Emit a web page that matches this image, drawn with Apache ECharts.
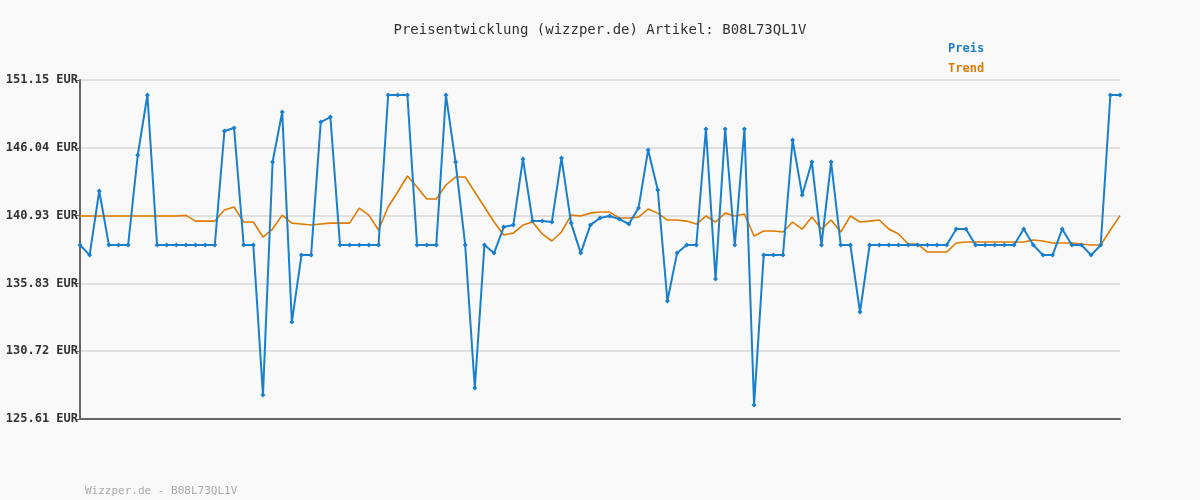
<!DOCTYPE html>
<html><head><meta charset="utf-8">
<script src="https://cdn.jsdelivr.net/npm/echarts@6/dist/echarts.min.js"></script>
<style>html,body{margin:0;padding:0;background:#f9f9f9}#c{width:1200px;height:500px}</style>
</head><body><div id="c"></div>
<script>
const title = 'Preisentwicklung (wizzper.de) Artikel: B08L73QL1V';
const footer = 'Wizzper.de - B08L73QL1V';
const yTicks = [125.61, 130.72, 135.83, 140.93, 146.04, 151.15];
const preis = [
138.72,137.96,142.79,138.72,138.72,138.72,145.5,150.02,138.72,138.72,
138.72,138.72,138.72,138.72,138.72,147.31,147.53,138.72,138.72,127.41,
144.97,148.74,132.91,137.96,137.96,147.98,148.36,138.72,138.72,138.72,
138.72,138.72,150.02,150.02,150.02,138.72,138.72,138.72,150.02,144.97,
138.72,127.94,138.72,138.11,140.07,140.22,145.2,140.52,140.52,140.45,
145.27,140.37,138.11,140.22,140.75,140.9,140.67,140.3,141.5,145.88,
142.86,134.5,138.11,138.72,138.72,147.46,136.15,147.46,138.72,147.46,
126.66,137.96,137.96,137.96,146.63,142.48,144.97,138.72,144.97,138.72,
138.72,133.67,138.72,138.72,138.72,138.72,138.72,138.72,138.72,138.72,
138.72,139.92,139.92,138.72,138.72,138.72,138.72,138.72,139.92,138.72,
137.96,137.96,139.92,138.72,138.72,137.96,138.72,150.02,150.02];
const trend = [
140.9,140.9,140.9,140.9,140.9,140.9,140.9,140.9,140.9,140.9,
140.9,140.95,140.52,140.52,140.52,141.35,141.58,140.45,140.45,139.32,
139.92,140.97,140.37,140.3,140.22,140.3,140.37,140.37,140.37,141.5,
140.97,139.85,141.58,142.71,143.92,143.09,142.18,142.18,143.24,143.84,
143.84,142.71,141.58,140.45,139.47,139.62,140.22,140.45,139.55,139.02,
139.7,140.97,140.9,141.12,141.2,141.2,140.75,140.75,140.82,141.43,
141.12,140.6,140.6,140.52,140.3,140.9,140.45,141.12,140.9,141.05,
139.4,139.77,139.77,139.7,140.45,139.92,140.82,139.92,140.6,139.7,
140.9,140.45,140.52,140.6,139.92,139.55,138.79,138.79,138.19,138.19,
138.19,138.87,138.94,138.94,138.94,138.94,138.94,138.94,138.94,139.1,
139.02,138.87,138.87,138.87,138.79,138.72,138.72,139.85,140.93];
const cats = preis.map((_, i) => i + 1);
const mono = 'DejaVu Sans Mono';
const chart = echarts.init(document.getElementById('c'));
chart.setOption({
  backgroundColor: '#f9f9f9',
  animation: false,
  title: [{text: title, left: 'center', top: 18, textStyle: {fontFamily: mono, fontSize: 14, fontWeight: 'normal', color: '#333'}},
          {text: footer, left: 80, top: 481, textStyle: {fontFamily: mono, fontSize: 11, fontWeight: 'normal', color: '#aaa'}}],
  legend: {orient: 'vertical', left: 938, top: 38, itemWidth: 0, itemHeight: 0, itemGap: 8, icon: 'none',
    data: [{name: 'Preis', textStyle: {color: '#1a7fcc'}}, {name: 'Trend', textStyle: {color: '#e07b00'}}],
    textStyle: {fontFamily: mono, fontSize: 12, fontWeight: 'bold'}},
  grid: {left: 80, right: 80, top: 80, bottom: 81},
  xAxis: {type: 'category', data: cats, boundaryGap: false,
    axisLine: {lineStyle: {color: '#666', width: 2}}, axisTick: {show: false}, axisLabel: {show: false}},
  yAxis: {type: 'value', min: yTicks[0], max: yTicks[yTicks.length - 1], interval: (yTicks[5] - yTicks[0]) / 5,
    axisLine: {show: true, lineStyle: {color: '#666', width: 2}},
    axisTick: {show: true, length: 4, lineStyle: {color: '#666'}},
    splitLine: {lineStyle: {color: '#e0e0e0', width: 2}},
    axisLabel: {fontFamily: mono, fontSize: 12, fontWeight: 'bold', color: '#333', margin: 2,
      formatter: v => { let b = yTicks.reduce((a, t) => Math.abs(t - v) < Math.abs(a - v) ? t : a); return b.toFixed(2) + ' EUR'; }}},
  series: [
    {name: 'Preis', type: 'line', data: preis, symbol: 'diamond', symbolSize: 5, z: 3,
      lineStyle: {color: '#1a7fcc', width: 2}, itemStyle: {color: '#1a7fcc'}},
    {name: 'Trend', type: 'line', data: trend, symbol: 'none', z: 2,
      lineStyle: {color: '#e07b00', width: 1.6}, itemStyle: {color: '#e07b00'}}
  ]
});
</script></body></html>
